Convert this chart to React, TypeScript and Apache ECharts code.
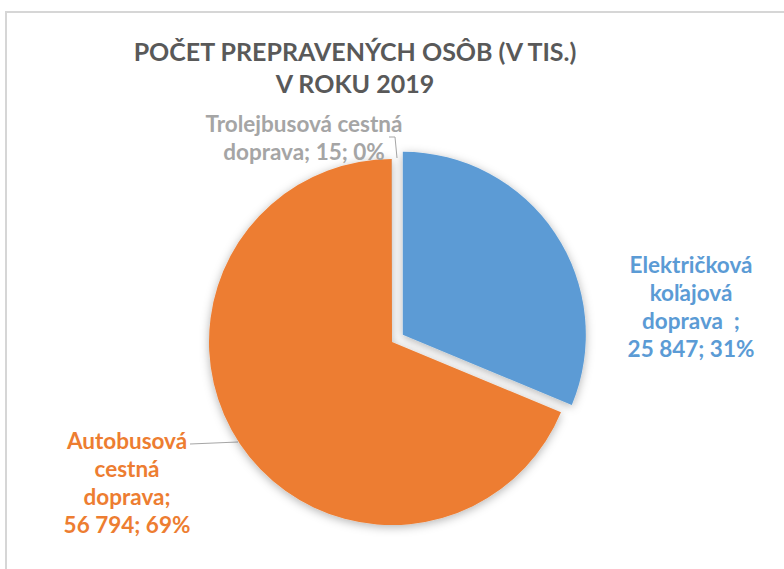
import React, { useEffect, useRef } from "react";
import * as echarts from "echarts";

const titleLines = ["POČET PREPRAVENÝCH OSÔB (V TIS.)", "V ROKU 2019"];
const categories = [
  "Električková koľajová doprava  ",
  "Autobusová cestná doprava",
  "Trolejbusová cestná doprava",
];
const values = [25847, 56794, 15];
const colors = ["#5B9BD5", "#ED7D31", "#A5A5A5"];
const explodedIndex = 0;

const fmtNum = (v: number) =>
  String(v).replace(/\B(?=(\d{3})+(?!\d))/g, " ");

export default function App() {
  const ref = useRef<HTMLDivElement>(null);
  useEffect(() => {
    if (!ref.current) return;
    const chart = echarts.init(ref.current, null, { renderer: "svg" });
    const font = "Lato, 'Noto Sans', sans-serif";
    const cx = 392;
    const cy = 342;
    const offset = 13;
    const total = values.reduce((a, b) => a + b, 0);
    let before = 0;
    for (let i = 0; i < explodedIndex; i++) before += values[i];
    const mid = ((before + values[explodedIndex] / 2) / total) * Math.PI * 2;
    const ex = cx + offset * Math.sin(mid);
    const ey = cy - offset * Math.cos(mid);

    const labelPos = [
      { x: 691, y: 306, line: null as number[][] | null },
      { x: 127, y: 482, line: [[190, 444], [238, 442]] },
      { x: 304, y: 137, line: [[389, 137], [395, 137], [397, 158]] },
    ];
    const formatLabel = (i: number, value: number, pct: number) => {
      const v = fmtNum(value);
      if (i === 0) return `Električková\nkoľajová\ndoprava  ;\n${v}; ${pct}%`;
      if (i === 1) return `Autobusová\ncestná\ndoprava;\n${v}; ${pct}%`;
      return `Trolejbusová cestná\ndoprava; ${v}; ${pct}%`;
    };
    const shadow = {
      shadowBlur: 10,
      shadowColor: "rgba(0,0,0,0.3)",
      shadowOffsetY: 2,
    };
    const makeSeries = (center: number[], visible: (i: number) => boolean) => ({
      type: "pie",
      center,
      radius: 183,
      startAngle: 90,
      clockwise: true,
      percentPrecision: 0,
      avoidLabelOverlap: false,
      emphasis: { disabled: true },
      silent: true,
      label: {
        show: true,
        position: "outside",
        fontFamily: font,
        fontWeight: "bold",
        fontSize: 22.5,
        lineHeight: 28,
        align: "center",
        formatter: (p: any) => formatLabel(p.dataIndex, p.value, p.percent),
      },
      labelLine: {
        show: true,
        lineStyle: { color: "#a6a6a6", width: 1 },
      },
      labelLayout: (p: any) => {
        const lp = labelPos[p.dataIndex];
        const r: any = { x: lp.x, y: lp.y, align: "center", verticalAlign: "middle" };
        if (lp.line) r.labelLinePoints = lp.line;
        return r;
      },
      data: categories.map((name, i) => {
        const vis = visible(i);
        return {
          name,
          value: values[i],
          itemStyle: vis
            ? { color: colors[i], ...shadow }
            : { color: "rgba(0,0,0,0)", shadowBlur: 0, shadowColor: "rgba(0,0,0,0)" },
          label: { show: vis, color: colors[i] },
          labelLine: { show: vis && !!labelPos[i].line },
        };
      }),
    });

    chart.setOption({
      animation: false,
      graphic: [
        {
          type: "rect",
          shape: { x: 6, y: 12, width: 900, height: 700 },
          style: { fill: "none", stroke: "#d6d6d6", lineWidth: 2 },
          silent: true,
        },
        ...titleLines.map((t, i) => ({
          type: "text",
          x: 355,
          y: 51 + i * 32,
          style: {
            text: t,
            fill: "#595959",
            font: `bold 25px ${font}`,
            textAlign: "center",
            textVerticalAlign: "middle",
          },
        })),
      ],
      series: [
        makeSeries([cx, cy], (i) => i !== explodedIndex),
        makeSeries([ex, ey], (i) => i === explodedIndex),
      ],
    });
    return () => chart.dispose();
  }, []);
  return (
    <div
      ref={ref}
      style={{ position: "fixed", left: 0, top: 0, width: 784, height: 569, background: "#fff" }}
    />
  );
}
